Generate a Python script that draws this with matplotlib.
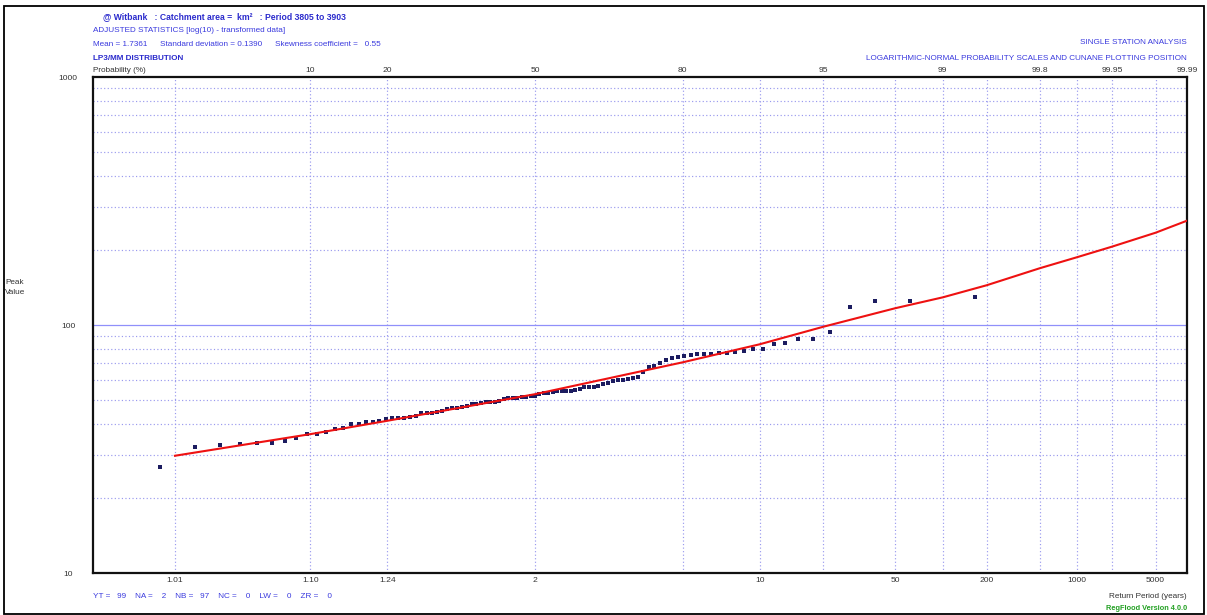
import matplotlib
matplotlib.use("Agg")
import matplotlib.pyplot as plt
import numpy as np
from statistics import NormalDist
from matplotlib.patches import Rectangle
from matplotlib.ticker import FixedLocator, NullFormatter

plt.rcParams['font.family'] = ['Liberation Sans', 'DejaVu Sans']

# --- data ---
n_years = 99
# sorted annual peaks, ranks 2..99 (rank 1 not visible)
peak_values = [
    26.7, 32.3, 32.8, 33.1, 33.5, 33.5, 34.0, 35.1, 36.2, 36.3, 37.0, 38.2, 38.3,
    39.8, 39.8, 40.6, 40.6, 41.1, 41.8, 42.0, 42.0, 42.0, 42.4, 43.1, 44.0, 44.3,
    44.3, 44.7, 45.0, 45.7, 46.2, 46.3, 46.9, 47.0, 47.9, 47.9, 48.3, 48.8, 49.0,
    49.1, 49.5, 50.3, 50.9, 50.9, 50.9, 51.1, 51.4, 51.7, 51.9, 52.6, 53.0, 53.0,
    53.5, 54.2, 54.2, 54.3, 54.3, 54.7, 55.2, 56.1, 56.3, 56.4, 56.9, 57.7, 58.5,
    59.6, 60.0, 60.0, 60.4, 61.3, 61.9, 64.8, 67.9, 68.5, 70.5, 72.3, 73.8, 74.1,
    75.2, 75.7, 76.4, 76.4, 76.6, 76.9, 77.3, 78.0, 78.6, 79.8, 79.8, 83.6, 84.8,
    87.6, 87.6, 93.7, 118.5, 125.0, 125.0, 130.0,
]
first_rank = 2

# fitted LP3 curve
curve_probs = [2, 10, 20, 50, 80, 90, 95, 98, 99, 99.5, 99.8, 99.9, 99.95, 99.98, 99.99]
curve_values = [29.7, 36.3, 41.1, 52.6, 70.7, 83.6, 98.4, 116.8, 129.3, 144.6,
                169.3, 187.5, 206.9, 235.6, 263.4]

grid_probs = [2, 10, 20, 50, 80, 90, 95, 98, 99, 99.5, 99.8, 99.9, 99.95, 99.98]
top_probs = [10, 20, 50, 80, 95, 99, 99.8, 99.95, 99.99]
top_labels = ['10', '20', '50', '80', '95', '99', '99.8', '99.95', '99.99']
rp_probs = [2, 10, 20, 50, 90, 98, 99.5, 99.9, 99.98]
rp_labels = ['1.01', '1.10', '1.24', '2', '10', '50', '200', '1000', '5000']
y_minor = [20, 30, 40, 50, 60, 70, 80, 90, 200, 300, 400, 500, 600, 700, 800, 900]

# Cunnane plotting position
ranks = np.arange(first_rank, first_rank + len(peak_values))
plot_probs = (ranks - 0.4) / (n_years + 0.2) * 100

# --- probability scale ---
nd = NormalDist()

def prob_to_z(p):
    p = np.clip(np.asarray(p, dtype=float) / 100.0, 1e-7, 1 - 1e-7)
    return np.vectorize(nd.inv_cdf, otypes=[float])(p)

def z_to_prob(z):
    return np.vectorize(nd.cdf, otypes=[float])(np.asarray(z, dtype=float)) * 100.0

W, H = 1207, 615
BLUE = '#3a3ade'
DBLUE = '#2a2acc'
GRID = '#9a9aee'
FS = 5.9

fig = plt.figure(figsize=(W / 100, H / 100), dpi=100)
ax = fig.add_axes([93 / W, 1 - 573 / H, (1187 - 93) / W, (573 - 77) / H])
ax.set_xscale('function', functions=(prob_to_z, z_to_prob))
ax.set_yscale('log')
ax.set_xlim(0.585, 99.99)
ax.set_ylim(10, 1000)

# grid
ax.set_xticks(grid_probs)
ax.set_xticklabels([rp_labels[rp_probs.index(p)] if p in rp_probs else '' for p in grid_probs])
ax.xaxis.set_minor_locator(FixedLocator([]))
ax.grid(axis='x', which='major', color=GRID, ls=(0, (1, 2)), lw=0.85)
ax.set_yticks([10, 100, 1000])
ax.set_yticklabels(['10', '100', '1000'])
ax.yaxis.set_minor_locator(FixedLocator(y_minor))
ax.yaxis.set_minor_formatter(NullFormatter())
ax.grid(axis='y', which='minor', color=GRID, ls=(0, (1, 2)), lw=0.85)
ax.axhline(100, color='#9090fa', lw=0.9)
ax.set_axisbelow(True)

ax.tick_params(axis='both', which='both', length=0, labelsize=6.1, labelcolor='#333333')
ax.tick_params(axis='x', pad=3)
ax.tick_params(axis='y', pad=18)
for lbl in ax.get_yticklabels():
    lbl.set_horizontalalignment('center')
for s in ax.spines.values():
    s.set_linewidth(1.6)
    s.set_color('#111111')

# data
ax.plot(plot_probs, peak_values, ls='none', marker='s', ms=2.4, mew=0,
        color='#1c1c60', zorder=3)
ax.plot(curve_probs, curve_values, color='#ee1111', lw=1.5, zorder=4)

# top probability labels
for p, t in zip(top_probs, top_labels):
    ax.annotate(t, xy=(p, 1), xycoords=('data', 'axes fraction'), xytext=(0, 2.5),
                textcoords='offset points', ha='center', va='bottom',
                fontsize=6.1, color='#333333')

def ftext(x, y, s, **kw):
    kw.setdefault('fontsize', FS)
    kw.setdefault('va', 'center')
    fig.text(x / W, 1 - y / H, s, **kw)

ftext(103, 17, '@ Witbank   : Catchment area =  km\u00b2   : Period 3805 to 3903',
      color=DBLUE, fontweight='bold', fontsize=6.2)
ftext(93, 30, 'ADJUSTED STATISTICS [log(10) - transformed data]', color=BLUE)
ftext(93, 44, 'Mean = 1.7361', color=BLUE)
ftext(160, 44, 'Standard deviation = 0.1390', color=BLUE)
ftext(275, 44, 'Skewness coefficient =   0.55', color=BLUE)
ftext(93, 58, 'LP3/MM DISTRIBUTION', color=DBLUE, fontweight='bold')
ftext(93, 70, 'Probability (%)', color='#333333')
ftext(1187, 42, 'SINGLE STATION ANALYSIS', color=BLUE, ha='right')
ftext(1187, 58, 'LOGARITHMIC-NORMAL PROBABILITY SCALES AND CUNANE PLOTTING POSITION',
      color=BLUE, ha='right')
ftext(5, 283, 'Peak', color='#333333')
ftext(5, 293, 'Value', color='#333333')
ftext(93, 596, 'YT =   99    NA =    2    NB =   97    NC =    0    LW =    0    ZR =    0',
      color=BLUE)
ftext(1187, 596, 'Return Period (years)', color='#333333', ha='right')
ftext(1187, 608, 'RegFlood Version 4.0.0', color='#22a022', ha='right',
      fontweight='bold', fontsize=5.3)

# outer frame
fig.add_artist(Rectangle((4 / W, 1 - 613.5 / H), (1204 - 4) / W, (613.5 - 6) / H,
                         transform=fig.transFigure, fill=False, ec='black', lw=1.3))

fig.savefig('out.png', dpi=100)
